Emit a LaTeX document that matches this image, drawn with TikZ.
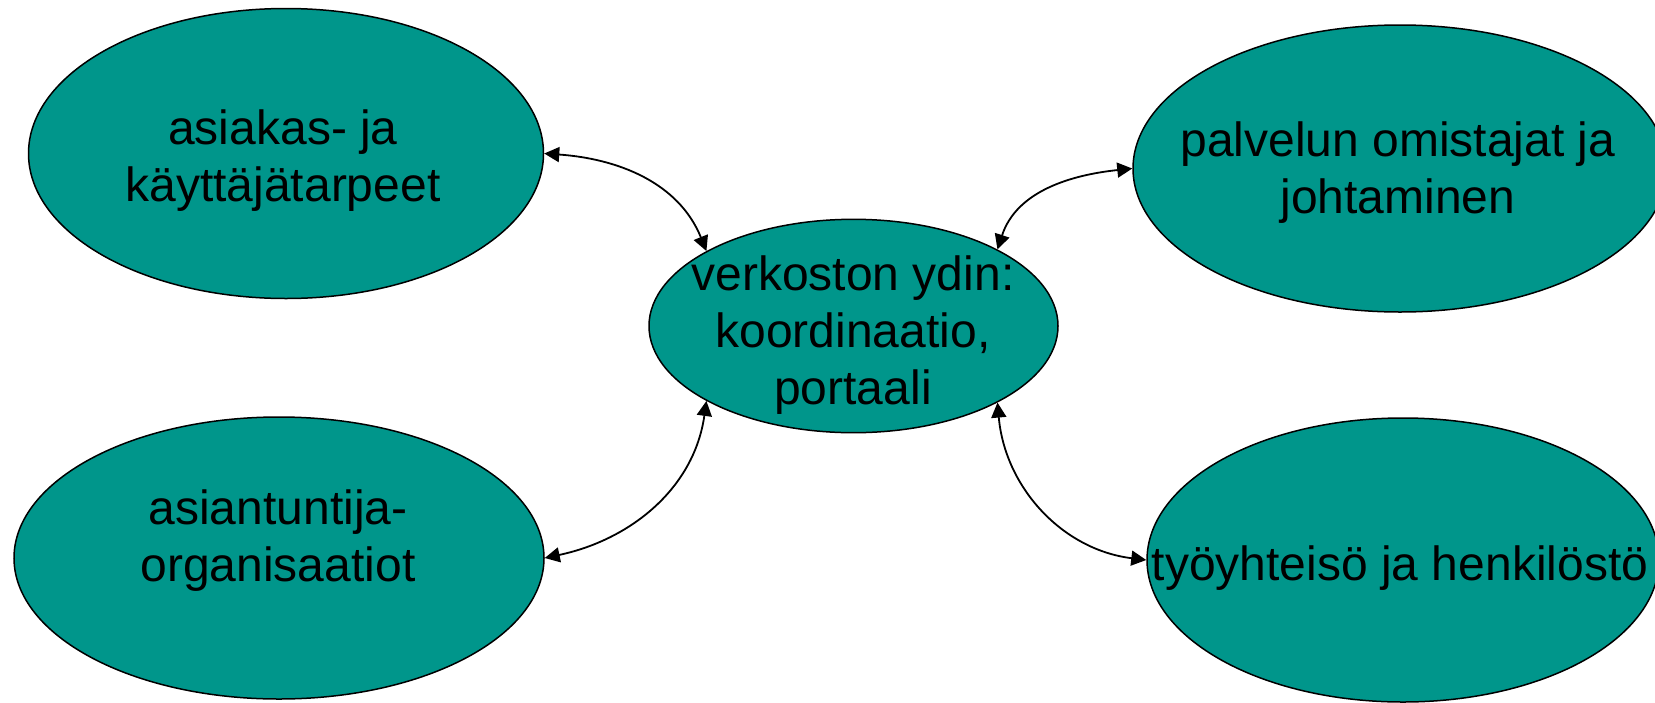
\documentclass[tikz,border=0pt]{standalone}
\usepackage{fontspec}
\setmainfont{Liberation Sans}
\usetikzlibrary{shapes.geometric,arrows.meta}
\definecolor{tealfill}{RGB}{0,150,139}
\begin{document}
\begin{tikzpicture}[x=0.5pt,y=0.5pt,
  blob/.style={ellipse,draw=black,line width=0.75pt,fill=tealfill,inner sep=0pt},
  lbl/.style={align=center,font=\fontsize{24pt}{28.5pt}\selectfont,inner sep=0pt},
  link/.style={>={Triangle[length=7.5pt,width=7.5pt]},<->,line width=0.9pt}]
\useasboundingbox (0,-702) rectangle (1655,0);
\clip (0,-702) rectangle (1655,0);
\node[blob,minimum width=257.5pt,minimum height=145pt] (tl) at (286,-153.5) {};
\node[blob,minimum width=265pt,minimum height=141pt] (bl) at (279,-558) {};
\node[blob,minimum width=204.5pt,minimum height=106.7pt] (c) at (853.5,-326) {};
\node[blob,minimum width=267pt,minimum height=143.5pt] (tr) at (1400,-168.5) {};
\node[blob,minimum width=256pt,minimum height=142pt] (br) at (1403,-560) {};
\node[lbl] (tltext) at (283,-161) {asiakas- ja\\käyttäjätarpeet};
\node[lbl] (bltext) at (278,-541) {asiantuntija-\\organisaatiot};
\node[lbl] (ctext) at (853,-335) {verkoston ydin:\\koordinaatio,\\portaali};
\node[lbl] (trtext) at (1398,-173) {palvelun omistajat ja\\johtaminen};
\node[lbl,anchor=base] (brtext) at (1400,-580) {työyhteisö ja henkilöstö};
\draw[link] (tl.east) to[out=-4,in=112] (c.153);
\draw[link] (c.28) to[out=72,in=186] (tr.west);
\draw[link] (c.207) to[out=262,in=12] (bl.east);
\draw[link] (c.-28) to[out=-85,in=173] (br.west);
\end{tikzpicture}
\end{document}
